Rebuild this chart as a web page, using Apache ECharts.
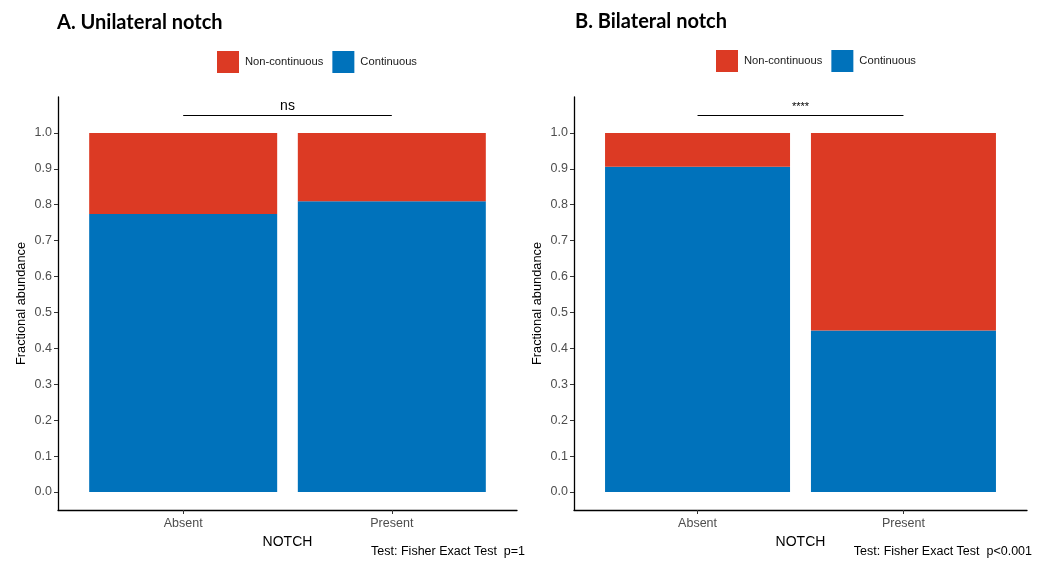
<!DOCTYPE html>
<html>
<head>
<meta charset="utf-8">
<title>Notch continuity</title>
<script src="https://cdn.jsdelivr.net/npm/echarts@6/dist/echarts.min.js"></script>
<style>
  html, body { margin: 0; padding: 0; background: #fff; }
  #chart { width: 1049px; height: 570px; }
</style>
</head>
<body>
<div id="chart"></div>
<script>
// Categories on the x axis of both panels
const categories = ['Absent', 'Present'];
const seriesNames = ['Non-continuous', 'Continuous'];
const yTickValues = [0, 0.1, 0.2, 0.3, 0.4, 0.5, 0.6, 0.7, 0.8, 0.9, 1.0];

// Panel A: unilateral notch
const uniContinuous = [0.774, 0.81];
const uniNonContinuous = [0.226, 0.19];
const uniSignif = 'ns';
const uniTest = 'Test: Fisher Exact Test  p=1';

// Panel B: bilateral notch
const biContinuous = [0.906, 0.45];
const biNonContinuous = [0.094, 0.55];
const biSignif = '****';
const biTest = 'Test: Fisher Exact Test  p<0.001';

const RED = '#DC3A24';
const BLUE = '#0072BB';
const FONT = '"Liberation Sans", Arial, sans-serif';

const chart = echarts.init(document.getElementById('chart'), null, { renderer: 'canvas' });

// Rows are [fraction, position]; the fraction comes first so it is the stacked dimension.
const toRows = arr => arr.map((v, i) => [v, i + 1]);

function xAxisFor(gridIndex) {
  return {
    type: 'value', gridIndex, min: 0.4, max: 2.6,
    name: 'NOTCH', nameLocation: 'middle', nameGap: 23,
    nameTextStyle: { color: '#000', fontSize: 14, fontFamily: FONT },
    axisLine: { show: true, onZero: false, lineStyle: { color: '#000', width: 1.3 } },
    axisTick: { show: true, length: 4, customValues: [1, 2], lineStyle: { color: '#333' } },
    axisLabel: {
      customValues: [1, 2], margin: 7, color: '#4d4d4d', fontSize: 12.5, fontFamily: FONT,
      formatter: v => categories[Math.round(v) - 1]
    },
    splitLine: { show: false }
  };
}

function yAxisFor(gridIndex) {
  return {
    type: 'value', gridIndex, min: -0.05, max: 1.1,
    name: 'Fractional abundance', nameLocation: 'middle', nameGap: 30,
    nameTextStyle: { color: '#000', fontSize: 12.8, fontFamily: FONT },
    axisLine: { show: true, onZero: false, lineStyle: { color: '#000', width: 1.3 } },
    axisTick: { show: true, length: 4, customValues: yTickValues, lineStyle: { color: '#333' } },
    axisLabel: {
      customValues: yTickValues, margin: 6, color: '#4d4d4d', fontSize: 12.5, fontFamily: FONT,
      formatter: v => v.toFixed(1)
    },
    splitLine: { show: false }
  };
}

function panelSeries(idx, cont, nonCont, signif, signifSize, barWidth) {
  const common = {
    type: 'bar', xAxisIndex: idx, yAxisIndex: idx, stack: 'frac' + idx, barWidth,
    dimensions: ['frac', 'pos'], encode: { x: 'pos', y: 'frac' }
  };
  return [
    Object.assign({ name: seriesNames[1], data: toRows(cont), itemStyle: { color: BLUE } }, common),
    Object.assign({
      name: seriesNames[0], data: toRows(nonCont), itemStyle: { color: RED },
      markLine: {
        silent: true, symbol: 'none', animation: false,
        lineStyle: { color: '#000', width: 1, type: 'solid' },
        label: {
          show: true, position: 'middle', distance: 2, formatter: signif,
          color: '#000', fontSize: signifSize, fontFamily: FONT
        },
        data: [[{ coord: [1, 1.05] }, { coord: [2, 1.05] }]]
      }
    }, common)
  ];
}

const legendBase = {
  icon: 'rect', itemWidth: 22, itemHeight: 22, itemGap: 9, orient: 'horizontal',
  padding: 0, data: seriesNames,
  textStyle: { color: '#1a1a1a', fontSize: 11.2, fontFamily: FONT, padding: [0, 0, 0, 1] },
  selectedMode: false
};

const titleStyle = { color: '#000', fontSize: 20, fontWeight: 'bold', fontFamily: 'Lato, "Open Sans", sans-serif' };
const noteStyle = { color: '#000', fontSize: 12.5, fontWeight: 'normal', fontFamily: FONT };

chart.setOption({
  animation: false,
  backgroundColor: '#fff',
  title: [
    { text: 'A. Unilateral notch', left: 57, top: 13, textStyle: titleStyle, padding: 0 },
    { text: 'B. Bilateral notch', left: 575, top: 12, textStyle: titleStyle, padding: 0 },
    { text: uniTest, right: 1049 - 525, top: 545, textStyle: noteStyle, padding: 0 },
    { text: biTest, right: 1049 - 1032, top: 545, textStyle: noteStyle, padding: 0 }
  ],
  legend: [
    Object.assign({ left: 217, top: 51 }, legendBase),
    Object.assign({ left: 716, top: 50 }, legendBase)
  ],
  grid: [
    { left: 58, top: 97, width: 459, height: 413, containLabel: false },
    { left: 574, top: 97, width: 453, height: 413, containLabel: false }
  ],
  xAxis: [xAxisFor(0), xAxisFor(1)],
  yAxis: [yAxisFor(0), yAxisFor(1)],
  series: [
    ...panelSeries(0, uniContinuous, uniNonContinuous, uniSignif, 14, 188),
    ...panelSeries(1, biContinuous, biNonContinuous, biSignif, 11, 185)
  ]
});
</script>
</body>
</html>
